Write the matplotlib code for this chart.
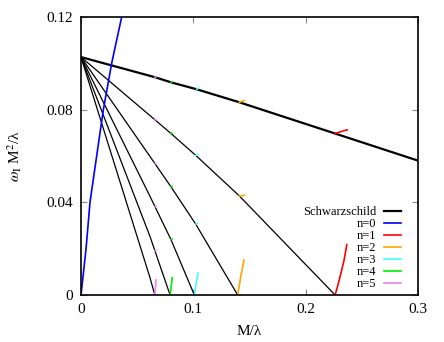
import numpy as np
import matplotlib
matplotlib.use("Agg")
import matplotlib.pyplot as plt

plt.rcParams['font.family'] = ['Liberation Serif', 'DejaVu Serif']
plt.rcParams['mathtext.fontset'] = 'stix'

# Schwarzschild branches (black)
schw_x = [
    [0, 0.0659, 0.0801, 0.1030, 0.1409, 0.2262, 0.3],
    [0, 0.0659, 0.0801, 0.1021, 0.1409, 0.2262],
    [0, 0.0614, 0.0801, 0.1021, 0.1395],
    [0, 0.0614, 0.0801, 0.1009],
    [0, 0.0614, 0.0793],
    [0, 0.0614, 0.0657],
]
schw_y = [
    [0.1027, 0.0940, 0.0918, 0.0888, 0.0832, 0.0697, 0.0580],
    [0.1027, 0.0756, 0.0697, 0.0603, 0.0428, 0.0],
    [0.1027, 0.0598, 0.0467, 0.0306, 0.0],
    [0.1027, 0.0426, 0.0239, 0.0],
    [0.1027, 0.0253, 0.0],
    [0.1027, 0.0075, 0.0],
]
schw_lw = [1.6, 0.9, 0.9, 0.9, 0.9, 0.9]

# n = 0 branch
n0_x = [0, 0.0045, 0.0080, 0.0199, 0.0273, 0.0362]
n0_y = [0, 0.020, 0.040, 0.080, 0.100, 0.120]

# n = 1..5 branches: list of short pieces (x, y)
n1_pieces = [
    ([0.2262, 0.2291, 0.2321, 0.2342, 0.2366], [0.0, 0.0050, 0.0108, 0.0151, 0.0217]),
    ([0.2262, 0.2300, 0.2340, 0.2370], [0.0697, 0.0703, 0.0709, 0.0713]),
]
n2_pieces = [
    ([0.1395, 0.1422, 0.1451], [0.0, 0.0079, 0.0151]),
    ([0.1409, 0.1430, 0.1451], [0.0832, 0.0835, 0.0840]),
    ([0.1409, 0.1430, 0.1451], [0.0427, 0.0428, 0.0431]),
]
n3_pieces = [
    ([0.1009, 0.1024, 0.1042], [0.0, 0.0045, 0.0095]),
    ([0.1030, 0.1045], [0.0888, 0.0892]),
    ([0.1021, 0.1036], [0.0603, 0.0606]),
    ([0.1021, 0.1036], [0.0306, 0.0309]),
]
n4_pieces = [
    ([0.0793, 0.0803, 0.0813], [0.0, 0.0035, 0.0075]),
    ([0.0801, 0.0810], [0.0918, 0.0920]),
    ([0.0801, 0.0810], [0.0697, 0.0699]),
    ([0.0801, 0.0810], [0.0467, 0.0469]),
    ([0.0801, 0.0810], [0.0239, 0.0241]),
]
n5_pieces = [
    ([0.0657, 0.0662, 0.0668], [0.0, 0.0030, 0.0065]),
    ([0.0659, 0.0666], [0.0940, 0.0941]),
    ([0.0659, 0.0666], [0.0756, 0.0757]),
    ([0.0659, 0.0666], [0.0567, 0.0568]),
    ([0.0659, 0.0666], [0.0381, 0.0382]),
    ([0.0659, 0.0666], [0.0191, 0.0192]),
]

mode_pieces = [n1_pieces, n2_pieces, n3_pieces, n4_pieces, n5_pieces]
mode_colors = ['#ff0000', '#ffa500', '#40ffff', '#00ee00', '#ee82ee']
mode_labels = ['n=1', 'n=2', 'n=3', 'n=4', 'n=5']

xticks = [0, 0.1, 0.2, 0.3]
xticklabels = ['0', '0.1', '0.2', '0.3']
yticks = [0, 0.04, 0.08, 0.12]
yticklabels = ['0', '0.04', '0.08', '0.12']

fig = plt.figure(figsize=(4.44, 3.42), dpi=100)
ax = fig.add_axes([81 / 444, 47 / 342, 337 / 444, 278 / 342])

for i, (xs, ys) in enumerate(zip(schw_x, schw_y)):
    ax.plot(xs, ys, color='black', lw=schw_lw[i],
            label='Schwarzschild' if i == 0 else None)

ax.plot(n0_x, n0_y, color='#0000ff', lw=1.2, label='n=0')

for pieces, col, lab in zip(mode_pieces, mode_colors, mode_labels):
    for j, (xs, ys) in enumerate(pieces):
        ax.plot(xs, ys, color=col, lw=1.2, label=lab if j == 0 else None)

ax.set_xlim(0, 0.3)
ax.set_ylim(0, 0.12)
ax.set_xticks(xticks)
ax.set_xticklabels(xticklabels)
ax.set_yticks(yticks)
ax.set_yticklabels(yticklabels)
ax.tick_params(direction='in', length=4, width=0.8, color='#888888',
               top=True, right=True, labelsize=11, pad=6)
for sp in ax.spines.values():
    sp.set_linewidth(1.2)

ax.set_xlabel('M/λ', fontsize=11, labelpad=6)
ax.set_ylabel(r'$\omega_{\rm I}$ M$^2$/λ', fontsize=11, labelpad=16)

ax.legend(loc='lower right', bbox_to_anchor=(0.95, 0.018), frameon=False,
          markerfirst=False, fontsize=9, handlelength=1.4, handletextpad=0.6,
          labelspacing=0.0, borderpad=0, borderaxespad=0)

fig.savefig('out.png', dpi=100)
